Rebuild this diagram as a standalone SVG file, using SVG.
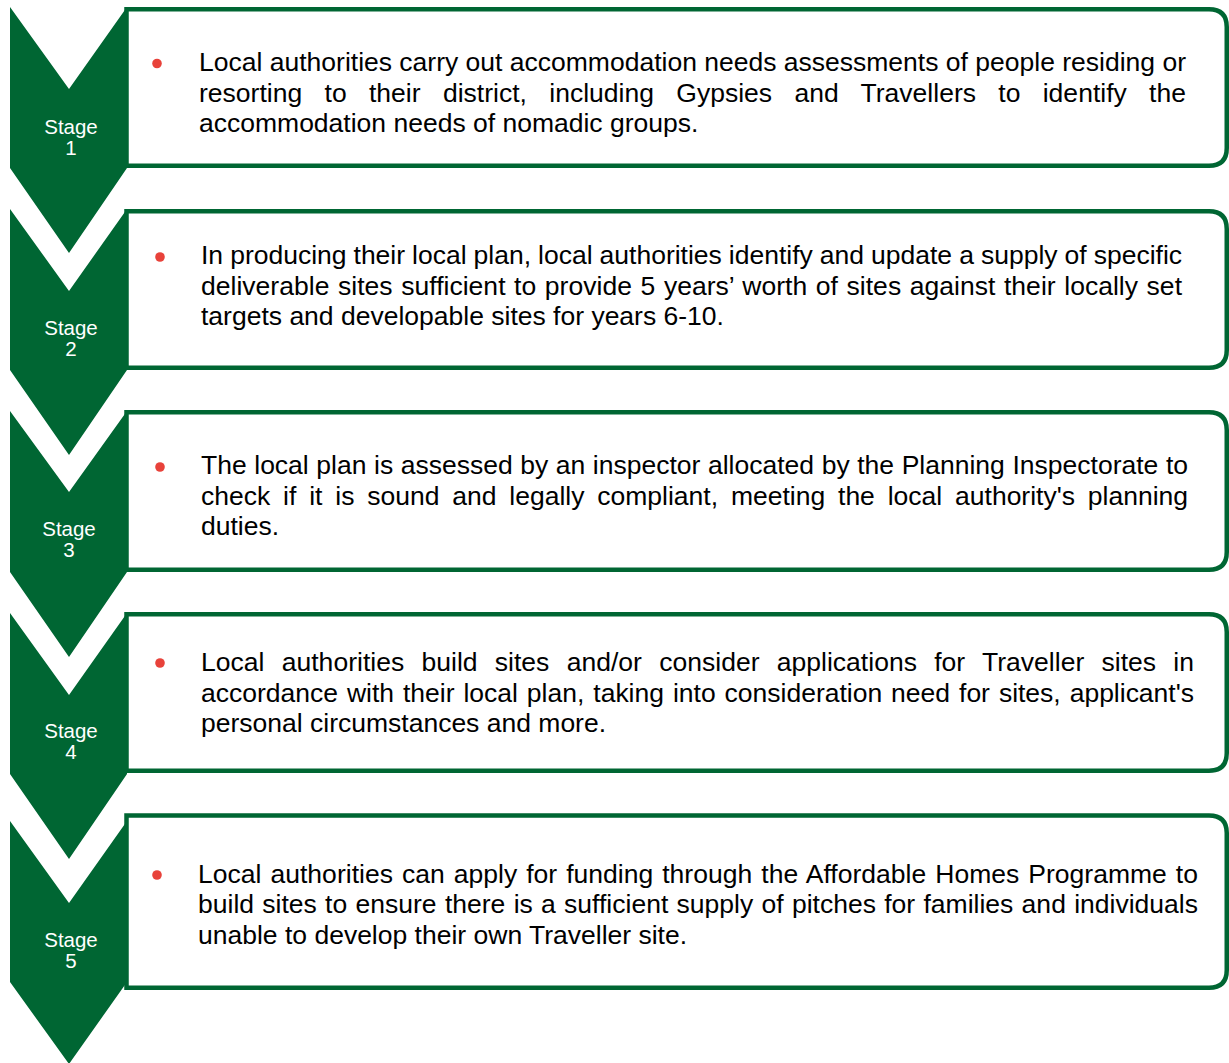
<svg xmlns="http://www.w3.org/2000/svg" width="1229" height="1063" viewBox="0 0 1229 1063">
<style>
.box{fill:#ffffff;stroke:#006633;stroke-width:4.5}
.chev{fill:#006633}
.stage{font-family:"Liberation Sans",Arial,sans-serif;font-size:20.5px;fill:#ffffff;text-anchor:middle}
.body{font-family:"Liberation Sans",Arial,sans-serif;font-size:26.5px;fill:#000000}
.dot{fill:#E8423A}
</style>
<rect width="1229" height="1063" fill="#ffffff"/>
<g id="connectors"></g>
<g id="stage1">
<path class="box" d="M126.5,9.25 H1209 Q1226.75,9.25 1226.75,27 V148 Q1226.75,165.75 1209,165.75 H126.5 Z"/>
<path class="chev" d="M10,7 L69,89 L127,7 L127,168 L69,253 L10,168 Z"/>
<text class="stage" x="71" y="134">Stage</text>
<text class="stage" x="71" y="155">1</text>
<circle class="dot" cx="157" cy="63.5" r="4.8"/>
<text class="body" x="199" y="71" textLength="987" lengthAdjust="spacing">Local authorities carry out accommodation needs assessments of people residing or</text>
<text class="body" x="199" y="101.5" word-spacing="14.9" textLength="987" lengthAdjust="spacing">resorting to their district, including Gypsies and Travellers to identify the</text>
<text class="body" x="199" y="132">accommodation needs of nomadic groups.</text>
</g>
<g id="stage2">
<path class="box" d="M126.5,211.25 H1209 Q1226.75,211.25 1226.75,229 V350 Q1226.75,367.75 1209,367.75 H126.5 Z"/>
<path class="chev" d="M10,209 L69,291 L127,209 L127,370 L69,455 L10,370 Z"/>
<text class="stage" x="71" y="335">Stage</text>
<text class="stage" x="71" y="356">2</text>
<circle class="dot" cx="160" cy="257" r="4.8"/>
<text class="body" x="201" y="264" word-spacing="-0.3" textLength="981" lengthAdjust="spacing">In producing their local plan, local authorities identify and update a supply of specific</text>
<text class="body" x="201" y="295" word-spacing="1.2" textLength="981" lengthAdjust="spacing">deliverable sites sufficient to provide 5 years’ worth of sites against their locally set</text>
<text class="body" x="201" y="325">targets and developable sites for years 6-10.</text>
</g>
<g id="stage3">
<path class="box" d="M126.5,412.25 H1209 Q1226.75,412.25 1226.75,430 V552 Q1226.75,569.75 1209,569.75 H126.5 Z"/>
<path class="chev" d="M10,411 L69,492 L127,411 L127,572 L69,657 L10,572 Z"/>
<text class="stage" x="69" y="536">Stage</text>
<text class="stage" x="69" y="557">3</text>
<circle class="dot" cx="160" cy="467" r="4.8"/>
<text class="body" x="201" y="474" word-spacing="0.2" textLength="987" lengthAdjust="spacing">The local plan is assessed by an inspector allocated by the Planning Inspectorate to</text>
<text class="body" x="201" y="505" word-spacing="5.5" textLength="987" lengthAdjust="spacing">check if it is sound and legally compliant, meeting the local authority's planning</text>
<text class="body" x="201" y="535">duties.</text>
</g>
<g id="stage4">
<path class="box" d="M126.5,614.25 H1209 Q1226.75,614.25 1226.75,632 V753 Q1226.75,770.75 1209,770.75 H126.5 Z"/>
<path class="chev" d="M10,613 L69,695 L127,613 L127,774 L69,859 L10,774 Z"/>
<text class="stage" x="71" y="738">Stage</text>
<text class="stage" x="71" y="759">4</text>
<circle class="dot" cx="160" cy="663" r="4.8"/>
<text class="body" x="201" y="671" word-spacing="9.9" textLength="993" lengthAdjust="spacing">Local authorities build sites and/or consider applications for Traveller sites in</text>
<text class="body" x="201" y="702" word-spacing="1.6" textLength="993" lengthAdjust="spacing">accordance with their local plan, taking into consideration need for sites, applicant's</text>
<text class="body" x="201" y="732">personal circumstances and more.</text>
</g>
<g id="stage5">
<path class="box" d="M126.5,815.5 H1209 Q1226.75,815.5 1226.75,833 V970 Q1226.75,987.75 1209,987.75 H126.5 Z"/>
<path class="chev" d="M10,821 L69,903 L127,821 L127,982 L69,1064 L10,982 Z"/>
<text class="stage" x="71" y="947">Stage</text>
<text class="stage" x="71" y="968">5</text>
<circle class="dot" cx="157" cy="875" r="4.8"/>
<text class="body" x="198" y="883" word-spacing="1.6" textLength="1000" lengthAdjust="spacing">Local authorities can apply for funding through the Affordable Homes Programme to</text>
<text class="body" x="198" y="913" word-spacing="0.9" textLength="1000" lengthAdjust="spacing">build sites to ensure there is a sufficient supply of pitches for families and individuals</text>
<text class="body" x="198" y="944">unable to develop their own Traveller site.</text>
</g>
</svg>
